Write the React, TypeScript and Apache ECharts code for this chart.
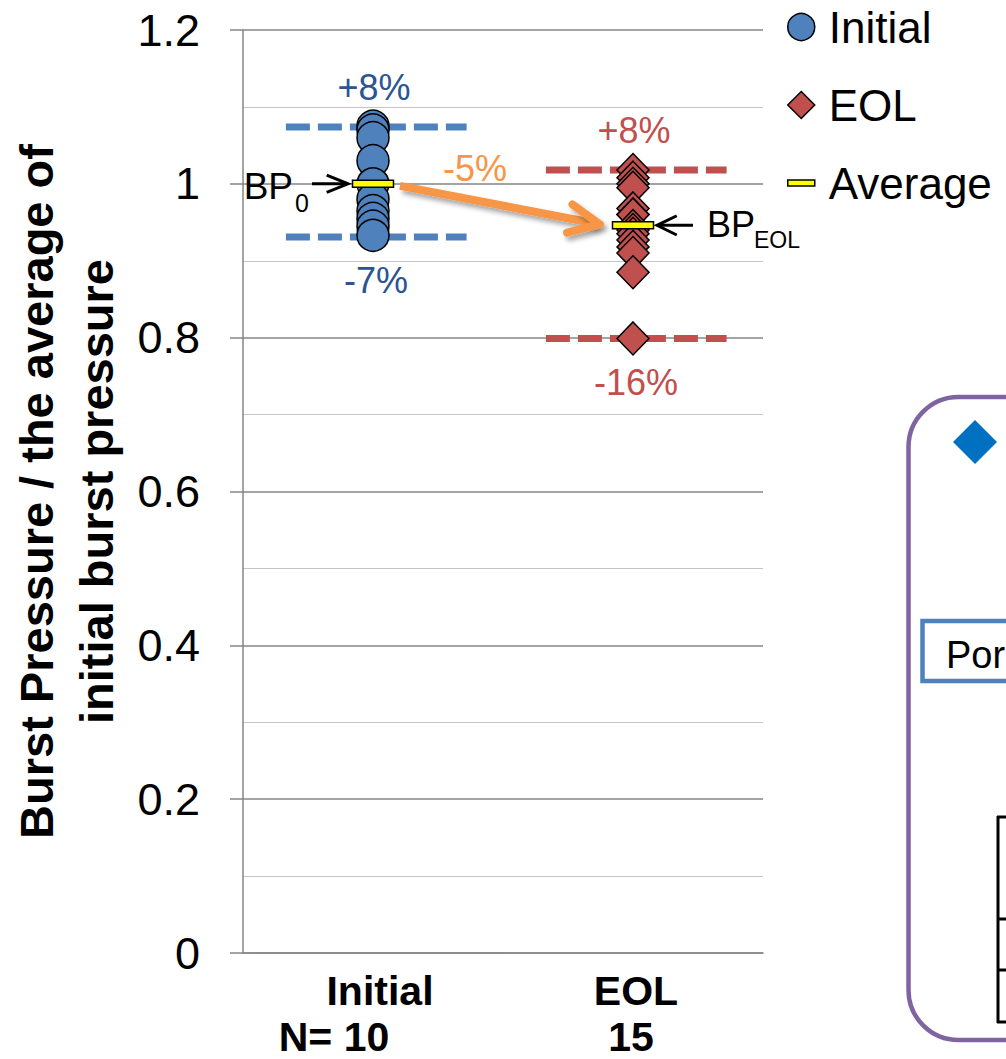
import React, { useEffect, useRef } from 'react';
import * as echarts from 'echarts';

const FONT = '"Liberation Sans", Arial, Helvetica, sans-serif';

// ---- data ----
const categories = ['Initial', 'EOL'];
const sampleCounts = ['N= 10', '15'];
const initialValues = [1.075, 1.07, 1.06, 1.03, 1.0, 0.98, 0.965, 0.955, 0.945, 0.933];
const eolValues = [1.018, 1.008, 1.0, 0.995, 0.968, 0.96, 0.96, 0.945, 0.94, 0.935, 0.927, 0.918, 0.91, 0.885, 0.799];
const averageValues = [1.0, 0.946];
const rangeHigh = [1.074, 1.018];
const rangeLow = [0.931, 0.799];
const rangeHighLabels = ['+8%', '+8%'];
const rangeLowLabels = ['-7%', '-16%'];
const averageChangeLabel = '-5%';
const bpSubscripts = ['0', 'EOL'];
const legendNames = ['Initial', 'EOL', 'Average'];
const yMin = 0;
const yMax = 1.2;
const yInterval = 0.2;
const yAxisTitle = 'Burst Pressure / the average of\ninitial burst pressure';
const sideBoxText = 'Por';

// ---- styles ----
const BLUE = '#4F81BD';
const RED = '#C0504D';
const BLUE_TEXT = '#2A5592';
const ORANGE = '#F79646';
const YELLOW = '#FFFF00';
const GRID_MAJOR = '#868686';
const GRID_MINOR = '#C4C4C4';
const rangeColors = [BLUE, RED];
const rangeLabelColors = [BLUE_TEXT, RED];

function arrowHead(tip: number[], dir: number[], len: number, angleDeg: number) {
  const a = (angleDeg * Math.PI) / 180;
  const rot = (ang: number) => [
    dir[0] * Math.cos(ang) - dir[1] * Math.sin(ang),
    dir[0] * Math.sin(ang) + dir[1] * Math.cos(ang),
  ];
  const r1 = rot(a);
  const r2 = rot(-a);
  return [
    [tip[0] - len * r1[0], tip[1] - len * r1[1]],
    [tip[0], tip[1]],
    [tip[0] - len * r2[0], tip[1] - len * r2[1]],
  ];
}

export default function App() {
  const ref = useRef<HTMLDivElement>(null);

  useEffect(() => {
    if (!ref.current) return;
    const chart = echarts.init(ref.current, undefined, { renderer: 'svg' });

    const rangeData = categories.map((c, i) => [i, rangeHigh[i], rangeLow[i]]);
    const avgData = categories.map((c, i) => [i, averageValues[i]]);

    const labelTok = { fontSize: 41, fontWeight: 'bold', color: '#000', fontFamily: FONT };

    const option: any = {
      animation: false,
      backgroundColor: '#ffffff',
      textStyle: { fontFamily: FONT },
      grid: {
        left: 243,
        right: 243,
        top: 30,
        bottom: 106,
        containLabel: false,
        outerBoundsMode: 'none',
      },
      legend: {
        orient: 'vertical',
        left: 782,
        top: 0,
        itemWidth: 27,
        itemHeight: 27,
        itemGap: 34,
        selectedMode: false,
        symbolKeepAspect: true,
        textStyle: {
          fontSize: 44,
          lineHeight: 43,
          color: '#000',
          fontFamily: FONT,
          padding: [0, 0, 0, 9],
        },
        data: [
          { name: legendNames[0], icon: 'circle', itemStyle: { color: BLUE, borderColor: '#000', borderWidth: 1.5 } },
          { name: legendNames[1], icon: 'diamond', itemStyle: { color: RED, borderColor: '#000', borderWidth: 1.5 } },
          {
            name: legendNames[2],
            icon: 'path://M0,0L27,0L27,6L0,6Z',
            itemStyle: { color: YELLOW, borderColor: '#000', borderWidth: 1.5 },
          },
        ],
      },
      xAxis: {
        type: 'category',
        data: categories,
        boundaryGap: true,
        axisLine: { show: true, lineStyle: { color: GRID_MAJOR, width: 1.5 } },
        axisTick: { show: false },
        splitLine: { show: false },
        axisLabel: {
          interval: 0,
          margin: 13,
          color: '#000',
          formatter: (value: string, index: number) => `{a${index}|${value}}\n{b${index}|${sampleCounts[index]}}`,
          rich: {
            a0: { ...labelTok, lineHeight: 49, padding: [0, 0, 0, 14] },
            b0: { ...labelTok, lineHeight: 44, padding: [0, 78, 0, 0] },
            a1: { ...labelTok, lineHeight: 49, padding: [0, 0, 0, 6] },
            b1: { ...labelTok, lineHeight: 44, padding: [0, 4, 0, 0] },
          },
        },
      },
      yAxis: {
        type: 'value',
        min: yMin,
        max: yMax,
        interval: yInterval,
        name: yAxisTitle,
        nameLocation: 'middle',
        nameRotate: 90,
        nameGap: 116,
        nameTextStyle: {
          fontSize: 47,
          fontWeight: 'bold',
          lineHeight: 60,
          color: '#000',
          fontFamily: FONT,
        },
        axisLine: { show: true, lineStyle: { color: GRID_MAJOR, width: 1.5 } },
        axisTick: { show: true, length: 13, lineStyle: { color: GRID_MAJOR, width: 1.5 } },
        minorTick: { show: false, splitNumber: 2 },
        splitLine: { show: true, lineStyle: { color: GRID_MAJOR, width: 1.5 } },
        minorSplitLine: { show: true, lineStyle: { color: GRID_MINOR, width: 1.2 } },
        axisLabel: {
          margin: 43,
          fontSize: 45,
          color: '#000',
          fontFamily: FONT,
        },
      },
      series: [
        {
          name: 'ranges',
          type: 'custom',
          z: 1,
          silent: true,
          data: rangeData,
          renderItem: (params: any, api: any) => {
            const i = api.value(0);
            const hi = api.coord([i, api.value(1)]);
            const lo = api.coord([i, api.value(2)]);
            const bw = api.size([1, 0])[0];
            const x1 = hi[0] - 0.335 * bw;
            const x2 = hi[0] + 0.36 * bw;
            const lineStyle = { stroke: rangeColors[i], lineWidth: 7, lineDash: [24, 8], lineCap: 'butt' };
            const txt = (text: string, x: number, y: number) => ({
              type: 'text',
              style: {
                text,
                x,
                y,
                align: 'center',
                verticalAlign: 'middle',
                fontSize: 36,
                fontFamily: FONT,
                fill: rangeLabelColors[i],
              },
            });
            return {
              type: 'group',
              children: [
                { type: 'line', shape: { x1, y1: hi[1], x2, y2: hi[1] }, style: lineStyle },
                { type: 'line', shape: { x1, y1: lo[1], x2, y2: lo[1] }, style: lineStyle },
                txt(rangeHighLabels[i], hi[0] + 1, hi[1] - 39),
                txt(rangeLowLabels[i], lo[0] + 3, lo[1] + 44),
              ],
            };
          },
        },
        {
          name: legendNames[0],
          type: 'scatter',
          z: 2,
          symbol: 'circle',
          symbolSize: 32,
          itemStyle: { color: BLUE, borderColor: '#000', borderWidth: 1.5, opacity: 1 },
          data: initialValues.map((v) => [categories[0], v]),
        },
        {
          name: legendNames[1],
          type: 'scatter',
          z: 2,
          symbol: 'diamond',
          symbolSize: [32, 33],
          itemStyle: { color: RED, borderColor: '#000', borderWidth: 1.5, opacity: 1 },
          data: eolValues.map((v) => [categories[1], v]),
        },
        {
          name: legendNames[2],
          type: 'custom',
          z: 3,
          itemStyle: { color: YELLOW, borderColor: '#000', borderWidth: 1.5 },
          data: avgData,
          renderItem: (params: any, api: any) => {
            const c = api.coord([api.value(0), api.value(1)]);
            return {
              type: 'rect',
              shape: { x: c[0] - 20.5, y: c[1] - 3.5, width: 41, height: 7 },
              style: { fill: YELLOW, stroke: '#000', lineWidth: 1.5 },
            };
          },
        },
        {
          name: 'annotations',
          type: 'custom',
          z: 4,
          silent: true,
          data: avgData,
          renderItem: (params: any, api: any) => {
            const i = params.dataIndex;
            const c = api.coord([api.value(0), api.value(1)]);
            const children: any[] = [];
            const text = (t: string, x: number, y: number, size: number, align: string, fill: string) => ({
              type: 'text',
              style: { text: t, x, y, align, verticalAlign: 'middle', fontSize: size, fontFamily: FONT, fill },
            });
            if (i === 0) {
              const tip = [c[0] - 25, c[1]];
              children.push({
                type: 'line',
                shape: { x1: c[0] - 61, y1: c[1], x2: tip[0] - 2, y2: c[1] },
                style: { stroke: '#000', lineWidth: 3 },
              });
              children.push({
                type: 'polyline',
                shape: { points: arrowHead(tip, [1, 0], 23, 22) },
                style: { stroke: '#000', lineWidth: 3, fill: 'none' },
              });
              children.push(text('BP', c[0] - 80, c[1] + 3, 37, 'right', '#000'));
              children.push(text(bpSubscripts[0], c[0] - 78, c[1] + 19, 25, 'left', '#000'));
            } else {
              const tip = [c[0] + 24, c[1]];
              children.push({
                type: 'line',
                shape: { x1: c[0] + 60, y1: c[1], x2: tip[0] + 2, y2: c[1] },
                style: { stroke: '#000', lineWidth: 3 },
              });
              children.push({
                type: 'polyline',
                shape: { points: arrowHead(tip, [-1, 0], 22, 26) },
                style: { stroke: '#000', lineWidth: 3, fill: 'none' },
              });
              children.push(text('BP', c[0] + 74, c[1] - 1, 36, 'left', '#000'));
              children.push(text(bpSubscripts[1], c[0] + 121, c[1] + 15, 23, 'left', '#000'));

              // orange change arrow from the initial average to the EOL average
              const p0 = api.coord([0, averageValues[0]]);
              const start = [p0[0] + 27, p0[1] + 2];
              const end = [c[0] - 33, c[1] - 1];
              const dx = end[0] - start[0];
              const dy = end[1] - start[1];
              const len = Math.sqrt(dx * dx + dy * dy);
              const dir = [dx / len, dy / len];
              const shadow = {
                shadowBlur: 5,
                shadowOffsetX: 3,
                shadowOffsetY: 4,
                shadowColor: 'rgba(0,0,0,0.35)',
              };
              children.push({
                type: 'line',
                shape: { x1: start[0], y1: start[1], x2: end[0] - dir[0] * 3, y2: end[1] - dir[1] * 3 },
                style: { stroke: ORANGE, lineWidth: 8, lineCap: 'butt', ...shadow },
              });
              children.push({
                type: 'polyline',
                shape: { points: arrowHead(end, dir, 34, 25) },
                style: { stroke: ORANGE, lineWidth: 8, fill: 'none', lineCap: 'round', lineJoin: 'round', ...shadow },
              });
              children.push(text(averageChangeLabel, p0[0] + 102, p0[1] - 15, 36, 'center', ORANGE));
            }
            return { type: 'group', children };
          },
        },
      ],
      graphic: [
        {
          type: 'rect',
          z: 10,
          silent: true,
          shape: { x: 908.5, y: 397, width: 300, height: 643, r: 50 },
          style: { fill: 'none', stroke: '#8064A2', lineWidth: 4.5 },
        },
        {
          type: 'polygon',
          z: 10,
          silent: true,
          shape: { points: [[975, 420], [997, 442], [975, 464], [953, 442]] },
          style: { fill: '#0070C0' },
        },
        {
          type: 'rect',
          z: 10,
          silent: true,
          shape: { x: 922.5, y: 621, width: 200, height: 60 },
          style: { fill: '#ffffff', stroke: BLUE, lineWidth: 4.5 },
        },
        {
          type: 'text',
          z: 11,
          silent: true,
          style: {
            text: sideBoxText,
            x: 946,
            y: 655,
            align: 'left',
            verticalAlign: 'middle',
            fontSize: 38,
            fontFamily: FONT,
            fill: '#000',
          },
        },
        { type: 'line', z: 10, silent: true, shape: { x1: 998, y1: 816, x2: 998, y2: 1023 }, style: { stroke: '#000', lineWidth: 3 } },
        { type: 'line', z: 10, silent: true, shape: { x1: 997, y1: 817, x2: 1010, y2: 817 }, style: { stroke: '#000', lineWidth: 3 } },
        { type: 'line', z: 10, silent: true, shape: { x1: 997, y1: 919, x2: 1010, y2: 919 }, style: { stroke: '#000', lineWidth: 3 } },
        { type: 'line', z: 10, silent: true, shape: { x1: 997, y1: 970, x2: 1010, y2: 970 }, style: { stroke: '#000', lineWidth: 3 } },
        { type: 'line', z: 10, silent: true, shape: { x1: 997, y1: 1022, x2: 1010, y2: 1022 }, style: { stroke: '#000', lineWidth: 3 } },
      ],
    };

    chart.setOption(option);
    return () => {
      chart.dispose();
    };
  }, []);

  return (
    <div
      ref={ref}
      style={{ position: 'fixed', left: 0, top: 0, width: 1006, height: 1059, background: '#fff' }}
    />
  );
}
